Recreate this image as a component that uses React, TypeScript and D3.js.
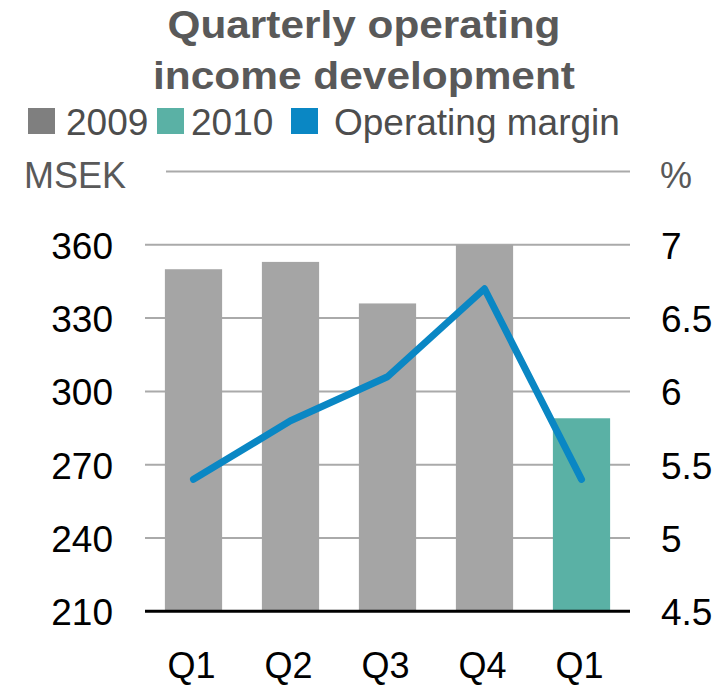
import React from "react";
import * as d3 from "d3";

const categories = ["Q1", "Q2", "Q3", "Q4", "Q1 "];
const categoryLabels = ["Q1", "Q2", "Q3", "Q4", "Q1"];
const years = ["2009", "2009", "2009", "2009", "2010"];
const incomeValues = [350, 353, 336, 360, 289];
const marginValues = [5.4, 5.8, 6.1, 6.7, 5.4];
const leftTicks = [210, 240, 270, 300, 330, 360];
const rightTicks = [4.5, 5, 5.5, 6, 6.5, 7];
const legendLabels = ["2009", "2010", "Operating margin"];
const titleLines = ["Quarterly operating", "income development"];

const W = 727;
const H = 685;
const FONT = "'Liberation Sans', Arial, sans-serif";
const COLORS: Record<string, string> = { "2009": "#a5a5a5", "2010": "#5ab1a5" };
const LEGEND_COLORS = ["#7f7f7f", "#5ab1a5", "#0a87c4"];
const LEGEND_X = [28, 157, 291];
const LEGEND_TEXT_X = [66, 191, 334];
const LINE_COLOR = "#0a87c4";

export default function App() {
  const x = d3
    .scaleBand<string>()
    .domain(categories)
    .range([145, 630])
    .paddingInner(0.41)
    .paddingOuter(0.205);
  const yL = d3.scaleLinear().domain([210, 390]).range([611.3, 171.5]);
  const yR = d3.scaleLinear().domain([4.5, 7.5]).range([611.3, 171.5]);
  const line = d3
    .line<number>()
    .x((_, i) => (x(categories[i]) as number) + x.bandwidth() / 2)
    .y((d) => yR(d));

  return (
    <div style={{ position: "absolute", left: 0, top: 0 }}>
      <svg width={W} height={H} style={{ display: "block", background: "#fff" }} fontFamily={FONT}>
        {/* title */}
        {titleLines.map((t, i) => (
          <text
            key={t}
            x={364}
            y={38 + i * 51}
            textAnchor="middle"
            fontSize={38}
            fontWeight="bold"
            fill="#595959"
            textLength={i === 0 ? 393 : 422}
            lengthAdjust="spacingAndGlyphs"
          >
            {t}
          </text>
        ))}
        {/* legend */}
        {legendLabels.map((l, i) => (
          <g key={l}>
            <rect x={LEGEND_X[i]} y={108} width={27} height={26} fill={LEGEND_COLORS[i]} />
            <text x={LEGEND_TEXT_X[i]} y={135} fontSize={37} fill="#4d4d4d">
              {l}
            </text>
          </g>
        ))}
        {/* unit labels */}
        <text x={24} y={188} fontSize={36} fill="#595959">MSEK</text>
        <text x={660} y={188} fontSize={36} fill="#595959">%</text>
        {/* gridlines */}
        <line x1={166} x2={630} y1={yL(390)} y2={yL(390)} stroke="#aaaaaa" strokeWidth={2} />
        {leftTicks.slice(1).map((t) => (
          <line key={t} x1={145} x2={630} y1={yL(t)} y2={yL(t)} stroke="#aaaaaa" strokeWidth={2} />
        ))}
        {/* bars */}
        {incomeValues.map((v, i) => (
          <rect
            key={i}
            x={x(categories[i])}
            y={yL(v)}
            width={x.bandwidth()}
            height={yL(210) - yL(v)}
            fill={COLORS[years[i]]}
          />
        ))}
        {/* baseline */}
        <line x1={145} x2={630} y1={yL(210)} y2={yL(210)} stroke="#000" strokeWidth={3} />
        {/* margin line */}
        <path
          d={line(marginValues) || ""}
          fill="none"
          stroke={LINE_COLOR}
          strokeWidth={7}
          strokeLinecap="round"
          strokeLinejoin="round"
        />
        {/* left ticks */}
        {leftTicks.map((t) => (
          <text key={t} x={113} y={yL(t) + 14} textAnchor="end" fontSize={37} fill="#000">
            {t}
          </text>
        ))}
        {/* right ticks */}
        {rightTicks.map((t) => (
          <text key={t} x={661} y={yR(t) + 14} fontSize={37} fill="#000">
            {String(t)}
          </text>
        ))}
        {/* category labels */}
        {categories.map((c, i) => (
          <text
            key={c}
            x={(x(c) as number) + x.bandwidth() / 2 - 2}
            y={678}
            textAnchor="middle"
            fontSize={36}
            fill="#000"
          >
            {categoryLabels[i]}
          </text>
        ))}
      </svg>
    </div>
  );
}
